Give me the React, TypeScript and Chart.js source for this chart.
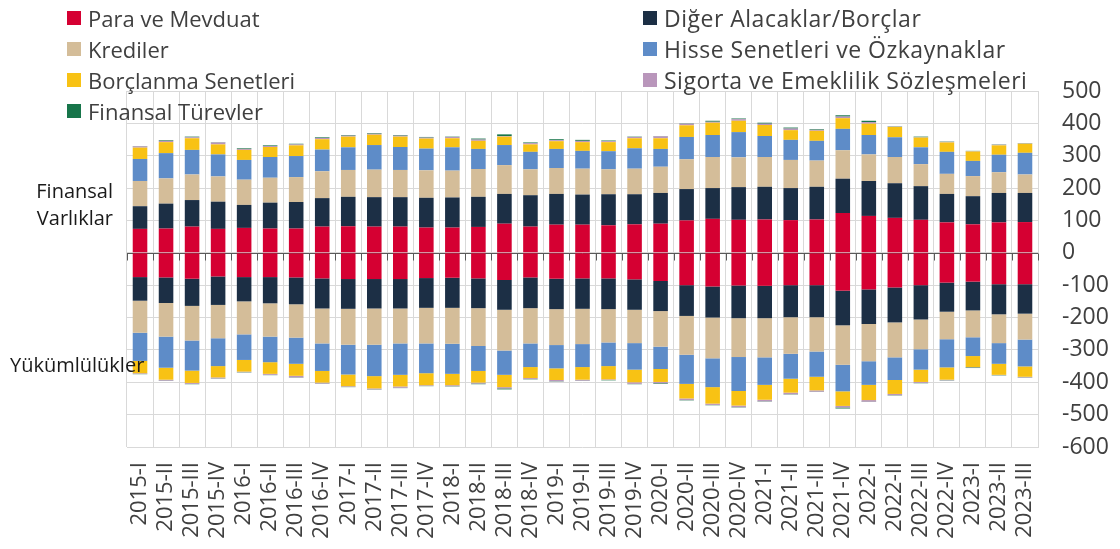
import React, { useEffect, useRef } from "react";
import { Chart, registerables } from "chart.js";

Chart.register(...registerables);

const categories = [
  "2015-I", "2015-II", "2015-III", "2015-IV",
  "2016-I", "2016-II", "2016-III", "2016-IV",
  "2017-I", "2017-II", "2017-III", "2017-IV",
  "2018-I", "2018-II", "2018-III", "2018-IV",
  "2019-I", "2019-II", "2019-III", "2019-IV",
  "2020-I", "2020-II", "2020-III", "2020-IV",
  "2021-I", "2021-II", "2021-III", "2021-IV",
  "2022-I", "2022-II", "2022-III", "2022-IV",
  "2023-I", "2023-II", "2023-III",
];

const yTicks = [500, 400, 300, 200, 100, 0, -100, -200, -300, -400, -500, -600];

// Finansal Varlıklar (positive)
const assetsPara = [74, 75, 81, 74, 77, 75, 75, 81, 82, 81, 81, 78, 78, 80, 90, 81, 87, 87, 85, 88, 90, 100, 105, 102, 103, 101, 103, 123, 114, 108, 102, 94, 88, 94, 95];
const assetsDiger = [70, 77, 82, 84, 71, 80, 82, 88, 91, 91, 91, 92, 93, 93, 92, 97, 95, 93, 96, 93, 95, 97, 95, 101, 101, 99, 101, 106, 108, 107, 104, 88, 87, 91, 90];
const assetsKredi = [78, 78, 79, 78, 78, 77, 77, 83, 83, 85, 84, 85, 83, 86, 89, 80, 80, 80, 77, 79, 81, 92, 96, 92, 92, 87, 81, 88, 82, 81, 68, 62, 62, 64, 57];
const assetsHisse = [68, 78, 76, 68, 61, 64, 65, 67, 70, 76, 71, 67, 72, 62, 62, 54, 59, 55, 56, 63, 55, 69, 68, 78, 65, 62, 61, 66, 60, 61, 52, 68, 47, 54, 67];
const assetsBorc = [35, 34, 36, 31, 31, 31, 33, 32, 33, 32, 32, 31, 28, 25, 26, 23, 24, 27, 28, 31, 33, 36, 38, 35, 34, 30, 31, 33, 35, 32, 30, 29, 29, 29, 28];
const assetsSigorta = [4, 4, 3, 6, 3, 3, 3, 4, 3, 3, 3, 3, 4, 4, 2, 4, 3, 4, 3, 4, 6, 5, 3, 5, 4, 5, 3, 5, 5, 1, 1, 2, 1, 2, 1];
const assetsTurev = [1, 2, 2, 1, 2, 2, 2, 2, 2, 2, 2, 2, 1, 3, 5, 2, 3, 3, 2, 1, 1, 1, 3, 2, 3, 3, 2, 4, 4, 1, 2, 1, 1, 1, 1];

// Yükümlülükler (negative)
const liabPara = [-75, -76, -80, -73, -75, -75, -76, -79, -81, -81, -81, -78, -77, -79, -84, -76, -80, -79, -79, -82, -87, -100, -104, -101, -102, -100, -100, -117, -113, -107, -100, -92, -89, -97, -97];
const liabDiger = [-73, -79, -84, -88, -75, -81, -83, -93, -92, -91, -91, -92, -93, -92, -92, -95, -94, -94, -95, -94, -93, -95, -96, -101, -100, -99, -99, -107, -107, -108, -106, -90, -89, -93, -91];
const liabKredi = [-99, -104, -107, -103, -102, -103, -103, -108, -111, -112, -108, -110, -111, -117, -126, -109, -111, -109, -103, -103, -110, -120, -126, -120, -121, -113, -106, -122, -115, -108, -92, -85, -83, -89, -80];
const liabHisse = [-87, -96, -93, -86, -79, -79, -81, -85, -92, -97, -97, -92, -93, -77, -75, -73, -72, -71, -73, -82, -69, -90, -89, -105, -85, -77, -78, -82, -73, -70, -63, -87, -58, -64, -83];
const liabBorc = [-38, -37, -38, -35, -36, -36, -37, -36, -36, -38, -36, -37, -35, -36, -38, -34, -36, -39, -41, -39, -40, -45, -51, -45, -46, -43, -42, -45, -47, -43, -38, -38, -34, -34, -32];
const liabSigorta = [-2, -3, -3, -3, -2, -3, -5, -3, -2, -3, -4, -2, -3, -3, -4, -3, -4, -3, -2, -5, -4, -5, -4, -5, -5, -5, -4, -5, -5, -4, -3, -2, -1, -1, -2];
const liabTurev = [-1, -1, -1, -1, -1, -1, -1, -1, -1, -1, -1, -1, -1, -2, -3, -1, -1, -1, -1, -1, -2, -1, -1, -1, -1, -1, -1, -3, -1, -1, -1, -1, -2, -1, -1];

const seriesNames = [
  "Para ve Mevduat",
  "Diğer Alacaklar/Borçlar",
  "Krediler",
  "Hisse Senetleri ve Özkaynaklar",
  "Borçlanma Senetleri",
  "Sigorta ve Emeklilik Sözleşmeleri",
  "Finansal Türevler",
];
const seriesColors = ["#D50032", "#1C2F45", "#D4BD99", "#5E8CC8", "#F8C214", "#B996BB", "#17754A"];

const assetSeries = [assetsPara, assetsDiger, assetsKredi, assetsHisse, assetsBorc, assetsSigorta, assetsTurev];
const liabSeries = [liabPara, liabDiger, liabKredi, liabHisse, liabBorc, liabSigorta, liabTurev];

const FONT = "'Open Sans', 'Noto Sans', sans-serif";
const TEXT = "#404040";

const legendLayout = [
  { idx: 0, col: 0, row: 0 },
  { idx: 1, col: 1, row: 0 },
  { idx: 2, col: 0, row: 1 },
  { idx: 3, col: 1, row: 1 },
  { idx: 4, col: 0, row: 2 },
  { idx: 5, col: 1, row: 2 },
  { idx: 6, col: 0, row: 3 },
];

const zeroLinePlugin = {
  id: "zeroLine",
  beforeDatasetsDraw(chart: any) {
    const { ctx, chartArea, scales } = chart;
    const y = Math.round(scales.y.getPixelForValue(0)) + 0.5;
    const n = categories.length;
    const step = (chartArea.right - chartArea.left) / n;
    ctx.save();
    ctx.strokeStyle = "#595959";
    ctx.lineWidth = 1;
    ctx.beginPath();
    ctx.moveTo(chartArea.left, y);
    ctx.lineTo(chartArea.right, y);
    for (let i = 0; i <= n; i++) {
      const x = Math.round(chartArea.left + i * step) + 0.5;
      ctx.moveTo(x, y);
      ctx.lineTo(x, y + 7);
    }
    ctx.stroke();
    ctx.restore();
  },
};

export default function App() {
  const canvasRef = useRef<HTMLCanvasElement | null>(null);

  useEffect(() => {
    if (!canvasRef.current) return;
    const datasets: any[] = [];
    assetSeries.forEach((data, i) => {
      datasets.push({
        label: seriesNames[i],
        data,
        backgroundColor: seriesColors[i],
        stack: "s",
        categoryPercentage: 1,
        barPercentage: 0.56,
        borderWidth: 0,
      });
    });
    liabSeries.forEach((data, i) => {
      datasets.push({
        label: seriesNames[i] + " (Y)",
        data,
        backgroundColor: seriesColors[i],
        stack: "s",
        categoryPercentage: 1,
        barPercentage: 0.56,
        borderWidth: 0,
      });
    });

    const chart = new Chart(canvasRef.current, {
      type: "bar",
      data: { labels: categories, datasets },
      plugins: [zeroLinePlugin],
      options: {
        responsive: false,
        animation: false,
        layout: { padding: { left: 119, top: 83, right: 0, bottom: 0 } },
        plugins: {
          legend: { display: false },
          tooltip: { enabled: false },
        },
        scales: {
          x: {
            stacked: true,
            grid: { color: "#D9D9D9", lineWidth: 1, drawTicks: false, offset: true },
            border: { display: false },
            ticks: {
              color: TEXT,
              font: { family: FONT, size: 22 },
              minRotation: 90,
              maxRotation: 90,
              autoSkip: false,
              padding: 15,
            },
            afterFit(scale: any) {
              scale.height = 94;
            },
          },
          y: {
            position: "right",
            stacked: true,
            min: -600,
            max: 500,
            grid: { color: "#D9D9D9", lineWidth: 1, drawTicks: false },
            border: { display: true, color: "#D9D9D9" },
            afterBuildTicks(scale: any) {
              scale.ticks = yTicks.map((v) => ({ value: v }));
            },
            ticks: {
              color: TEXT,
              font: { family: FONT, size: 23 },
              padding: 24,
              callback: (v: any) => String(v),
            },
            afterFit(scale: any) {
              scale.width = 74;
            },
          },
        },
      } as any,
    });
    return () => chart.destroy();
  }, []);

  return (
    <div style={{ position: "relative", width: 1104, height: 533, fontFamily: FONT }}>
      <canvas ref={canvasRef} width={1104} height={533} style={{ display: "block" }} />
      {legendLayout.map(({ idx, col, row }) => {
        const cy = 10 + row * 31;
        const sx = col === 0 ? 59 : 635;
        return (
          <div key={idx} style={{ position: "absolute", left: sx, top: cy - 15, height: 30, display: "flex", alignItems: "center", whiteSpace: "nowrap" }}>
            <span style={{ display: "inline-block", width: 14, height: 14, background: seriesColors[idx], marginRight: 7 }} />
            <span style={{ fontSize: col === 0 ? 22 : 23, letterSpacing: col === 0 ? 0 : 0.5, color: TEXT, lineHeight: "30px" }}>{seriesNames[idx]}</span>
          </div>
        );
      })}
      <div style={{ position: "absolute", left: 0, width: 105, top: 169, textAlign: "right", fontSize: 20, lineHeight: "27px", color: "#1a1a1a" }}>
        Finansal
        <br />
        Varlıklar
      </div>
      <div style={{ position: "absolute", left: 2, top: 343, fontSize: 20, lineHeight: "28px", color: "#1a1a1a", whiteSpace: "nowrap" }}>
        Yükümlülükler
      </div>
    </div>
  );
}
